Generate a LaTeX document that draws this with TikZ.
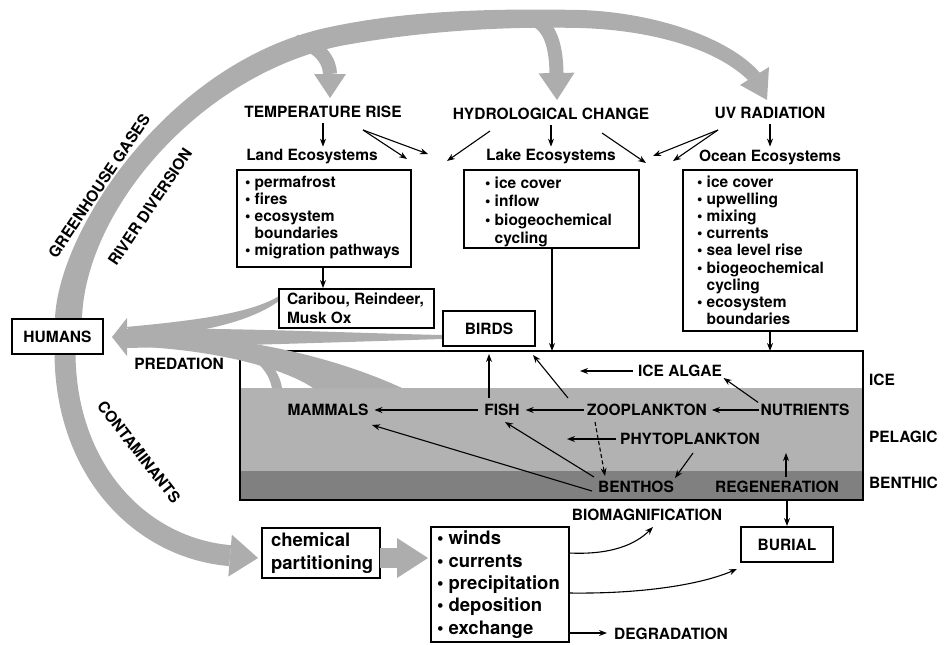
\documentclass[tikz,border=0pt]{standalone}
\usepackage{fontspec}
\setmainfont{TeX Gyre Heros}
\usetikzlibrary{arrows.meta}
\definecolor{bandgray}{gray}{0.68}
\definecolor{pelgray}{gray}{0.70}
\definecolor{bengray}{gray}{0.50}
\newcommand\fa{\fontsize{15.5}{17.2}\selectfont\bfseries}
\newcommand\fl{\fontsize{15.5}{18.6}\selectfont\bfseries}
\newcommand\fc{\fontsize{15.5}{19}\selectfont\bfseries}
\newcommand\fb{\fontsize{18.5}{22.4}\selectfont\bfseries}
\begin{document}
\begin{tikzpicture}[x=1pt,y=-1pt,
  every node/.style={inner sep=0pt, outer sep=0pt},
  lbl/.style={font=\fa},
  txt/.style={font=\fa, align=left, anchor=north west},
  box/.style={draw, line width=1.6pt, fill=white, anchor=north west, font=\fa},
  arr/.style={draw, line width=1.1pt, -{Stealth[length=8pt,width=6pt]}},
  band/.style={draw=bandgray, line width=#1}
]
\useasboundingbox (0,0) rectangle (948,645);

% ---- main layered box ----
\fill[white] (240,351) rectangle (863,388);
\fill[pelgray] (240,388) rectangle (863,471);
\fill[bengray] (240,471) rectangle (863,500);
\node[draw, line width=1.6pt, minimum width=623, minimum height=149, anchor=north west] (mainbox) at (240,351) {};

% ---- predation streams ----
\fill[bandgray] (126,327) .. controls (190,321) and (250,314) .. (279,296) -- (279,301) .. controls (250,322) and (200,333) .. (140,338) -- cycle;
\fill[bandgray] (126,329) .. controls (220,327) and (350,333) .. (442,335) -- (442,339) .. controls (350,342) and (220,346) .. (126,348) -- cycle;
\fill[bandgray] (145,333) .. controls (240,336) and (330,355) .. (402,388) -- (313,388) .. controls (290,372) and (230,352) .. (145,347) -- cycle;
\fill[bandgray] (226,349) .. controls (255,355) and (268,370) .. (272,388) -- (282,388) .. controls (279,368) and (262,352) .. (245,346) -- cycle;
\fill[bandgray] (112,337) -- (127,318) -- (127,356) -- cycle;

% ---- big gray band (humans -> top -> UV) ----
\fill[bandgray] (55,319) .. controls (58,230) and (170,60) .. (330,27)
  .. controls (400,12) and (480,8) .. (580,10)
  .. controls (650,12) and (728,36) .. (760,73)
  -- (748,80) .. controls (715,48) and (650,30) .. (580,28)
  .. controls (490,26) and (410,33) .. (340,46)
  .. controls (200,75) and (85,210) .. (82,319) -- cycle;
\fill[bandgray] (740,85) -- (769,67) -- (767,100) -- cycle;
\draw[band=14pt, -{Triangle[length=24pt,width=32pt,line width=0pt]}]
  (296,42) .. controls (320,44) and (330,62) .. (330,98);
\draw[band=14pt, -{Triangle[length=27pt,width=36pt,line width=0pt]}]
  (525,17) .. controls (550,20) and (556,45) .. (557,100);
\draw[band=21pt, -{Triangle[length=28pt,width=42pt,line width=0pt]}]
  (65,354) .. controls (66,470) and (140,548) .. (258,558);

% ---- boxes ----
\node[box, minimum width=174, minimum height=97] (landbox) at (237,170) {};
\node[box, minimum width=175, minimum height=78] (lakebox) at (464,170) {};
\node[box, minimum width=174, minimum height=161] (oceanbox) at (683,170) {};
\node[box, minimum width=155, minimum height=39] (caribou) at (279,289) {};
\node[box, minimum width=92, minimum height=35] (birds) at (443,311) {BIRDS};
\node[box, minimum width=91, minimum height=35] (humans) at (12,319) {HUMANS};
\node[box, minimum width=92, minimum height=35] (burial) at (741,527) {BURIAL};
\node[box, minimum width=118, minimum height=50] (chem) at (262,528) {};
\node[box, minimum width=138, minimum height=115] (bulbox) at (431,527) {};

\draw[band=20pt, -{Triangle[length=31pt,width=40pt,line width=0pt]}]
  ([yshift=-5pt]chem.east) -- ([yshift=-5pt,xshift=-3pt]chem.east -| bulbox.west);

% ---- texts in boxes ----
\node[txt] (landtxt) at (245,175) {\strut• permafrost\\• fires\\• ecosystem\\\phantom{• }boundaries\\• migration pathways};
\node[txt, font=\fl] (laketxt) at (485,175) {\strut• ice cover\\• inflow\\• biogeochemical\\\phantom{• }cycling};
\node[txt] (oceantxt) at (697,175) {\strut• ice cover\\• upwelling\\• mixing\\• currents\\• sea level rise\\• biogeochemical\\\phantom{• }cycling\\• ecosystem\\\phantom{• }boundaries};
\node[txt, font=\fc] (caribtxt) at (287,291) {\strut Caribou, Reindeer,\\Musk Ox};
\node[txt, font=\fb] (chemtxt) at (271,531) {\strut chemical\\partitioning};
\node[txt, font=\fb] (bultxt) at (437,529) {\strut• winds\\• currents\\• precipitation\\• deposition\\• exchange};

% ---- headings ----
\node[lbl] (temp) at (323,112) {TEMPERATURE RISE};
\node[lbl] (hydro) at (551,114) {HYDROLOGICAL CHANGE};
\node[lbl] (uv) at (770,113) {UV RADIATION};
\node[lbl] (landlbl) at (312,157) {Land Ecosystems};
\node[lbl] (lakelbl) at (551,157) {Lake Ecosystems};
\node[lbl] (oceanlbl) at (770,157) {Ocean Ecosystems};

% ---- side labels ----
\node[lbl, rotate=56] (ghg) at (99,186) {GREENHOUSE GASES};
\node[lbl, rotate=56] (river) at (150,207) {RIVER DIVERSION};
\node[lbl, rotate=-52] (contam) at (139,452) {CONTAMINANTS};
\node[lbl] (predation) at (179,364) {PREDATION};
\node[lbl, anchor=west] (ice) at (869,380) {ICE};
\node[lbl, anchor=west] (pelagic) at (869,437) {PELAGIC};
\node[lbl, anchor=west] (benthic) at (869,483) {BENTHIC};

% ---- labels inside main box ----
\node[lbl] (icealgae) at (680,371) {ICE ALGAE};
\node[lbl] (nutrients) at (805,410) {NUTRIENTS};
\node[lbl] (zoo) at (647,410) {ZOOPLANKTON};
\node[lbl] (fish) at (502,410) {FISH};
\node[lbl] (mammals) at (328,410) {MAMMALS};
\node[lbl] (phyto) at (690,439) {PHYTOPLANKTON};
\node[lbl] (benthos) at (636,487) {BENTHOS};
\node[lbl] (regen) at (777,487) {REGENERATION};
\node[lbl] (biomag) at (647,515) {BIOMAGNIFICATION};
\node[lbl] (degr) at (671,634) {DEGRADATION};

% ---- free ends ----
\coordinate (tA) at (363,130);
\coordinate (tB) at (407,159);
\coordinate (tC) at (428,154);
\coordinate (hA) at (490,131);
\coordinate (hB) at (447,161);
\coordinate (hC) at (602,133);
\coordinate (hD) at (646,163);
\coordinate (uA) at (718,130);
\coordinate (uB) at (653,156);
\coordinate (uC) at (673,161);
\coordinate (iaEnd) at (580,371);
\coordinate (zA) at (568,398);
\coordinate (zB) at (533,355);
\coordinate (pEnd) at (567,439);
\coordinate (dA) at (595,422);
\coordinate (dB) at (605,476);
\coordinate (pbA) at (693,453);
\coordinate (pbB) at (675,478);
\coordinate (rA) at (786,477);
\coordinate (rB) at (786,453);
\coordinate (bfA) at (594,477);
\coordinate (bfB) at (505,422);
\coordinate (bmA) at (592,491);
\coordinate (bmB) at (372,425);
\coordinate (bioEnd) at (653,527);
\coordinate (burEnd) at (737,569);
\coordinate (degEnd) at (607,633);

% ---- arrows: top ----
\draw[arr, shorten <=5pt, shorten >=3pt] (temp.south) -- (temp.south |- landlbl.north);
\draw[arr] (tA) -- (tB);
\draw[arr] (tA) -- (tC);
\draw[arr] (hA) -- (hB);
\draw[arr, shorten <=5pt, shorten >=3pt] (hydro.south) -- (hydro.south |- lakelbl.north);
\draw[arr] (hC) -- (hD);
\draw[arr] (uA) -- (uB);
\draw[arr] (uA) -- (uC);
\draw[arr, shorten <=5pt, shorten >=3pt] (uv.south -| oceanlbl.north) -- (oceanlbl.north);
\draw[arr, shorten >=1pt] (landbox.south -| 323,0) -- (caribou.north -| 323,0);
\draw[arr] (lakebox.south -| 552,0) -- (mainbox.north -| 552,0);
\draw[arr] (oceanbox.south -| 770,0) -- (mainbox.north -| 770,0);

% ---- arrows: food web ----
\draw[arr, shorten <=5pt] (icealgae.west) -- (iaEnd);
\draw[arr, shorten <=3pt, shorten >=2pt] (nutrients.north west) -- (icealgae.south east);
\draw[arr, shorten <=2pt, shorten >=5pt] (nutrients.west) -- (zoo.east);
\draw[arr, shorten <=3pt, shorten >=6pt] (zoo.west) -- (fish.east);
\draw[arr] (zA) -- (zB);
\draw[arr, shorten <=6pt, shorten >=3pt] (fish.north -| birds.south) -- (birds.south |- mainbox.north);
\draw[arr, shorten <=6pt, shorten >=6pt] (fish.west) -- (mammals.east);
\draw[arr, shorten <=4pt] (phyto.west) -- (pEnd);
\draw[arr, dash pattern=on 4pt off 2.5pt] (dA) -- (dB);
\draw[arr] (pbA) -- (pbB);
\draw[arr] (rA) -- (rB);
\draw[arr] (bfA) -- (bfB);
\draw[arr] (bmA) -- (bmB);
\draw[arr, shorten >=1pt] (mainbox.south -| burial.north) -- (burial.north);

% ---- arrows: bottom ----
\draw[arr] ([yshift=31.5pt]bulbox.east) .. controls (610,555) and (635,545) .. (bioEnd);
\draw[arr] ([yshift=-8.5pt]bulbox.east) .. controls (640,594) and (700,585) .. (burEnd);
\draw[arr] ([yshift=-48.5pt]bulbox.east) -- (degEnd);
\end{tikzpicture}
\end{document}
